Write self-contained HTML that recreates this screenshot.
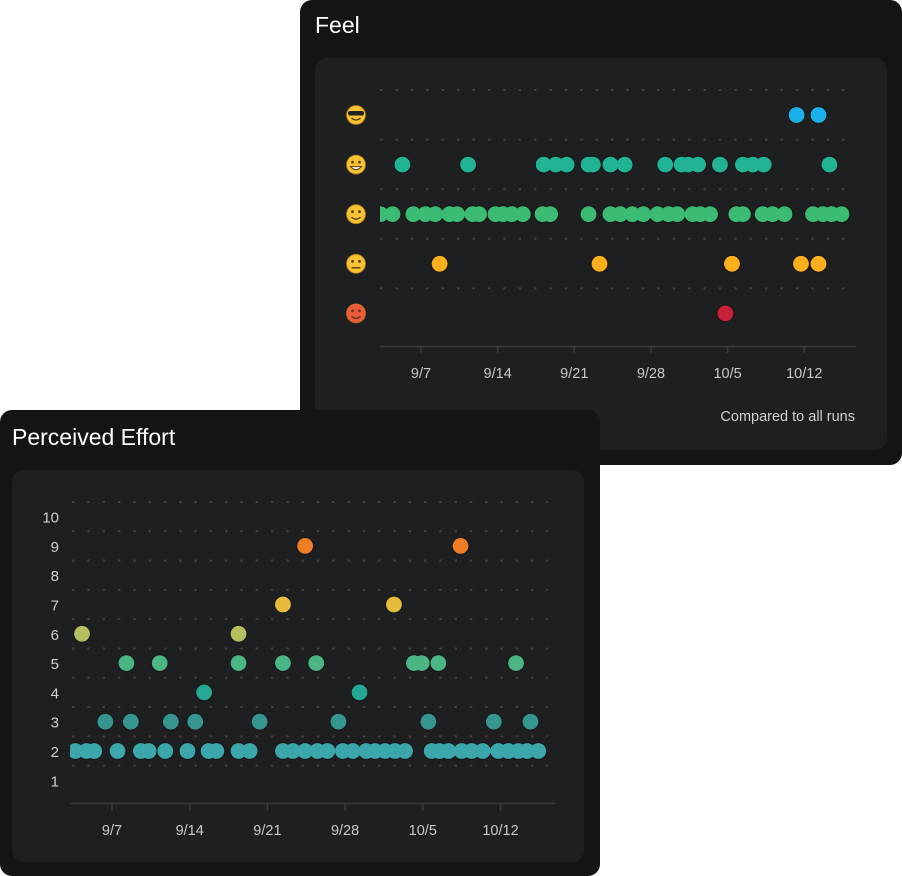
<!DOCTYPE html>
<html><head><meta charset="utf-8">
<style>
html,body{margin:0;padding:0;background:#fff;width:902px;height:876px;overflow:hidden}
svg text{font-family:"Liberation Sans",sans-serif}
</style></head>
<body>
<svg id="root" width="902" height="876" viewBox="0 0 902 876" xmlns="http://www.w3.org/2000/svg">
  <defs>
    <clipPath id="feelClip"><rect x="380" y="80" width="480" height="270"/></clipPath>
    <clipPath id="effClip"><rect x="70" y="490" width="490" height="315"/></clipPath>
  </defs>
  <g>
    <rect x="300" y="0" width="602" height="465" rx="12" fill="#131416"/>
    <text x="315" y="33" font-size="23" fill="#fff">Feel</text>
    <rect x="315" y="58" width="572" height="392" rx="12" fill="#1e1f21"/>
    <g id="feelGrid"></g>
    <g id="feelEmojis"></g>
    <g id="feelDots" clip-path="url(#feelClip)"><g id="feelStroke"></g><g id="feelFill"></g></g>
    <g id="feelAxis"></g>
    <text x="855" y="421" font-size="14.5" fill="#d0d0d0" text-anchor="end">Compared to all runs</text>
  </g>
  <g>
    <rect x="0" y="410" width="600" height="466" rx="12" fill="#131416"/>
    <text x="12" y="445" font-size="23" fill="#fff">Perceived Effort</text>
    <rect x="12" y="470" width="572" height="392" rx="12" fill="#1e1f21"/>
    <g id="effGrid"></g>
    <g id="effDots" clip-path="url(#effClip)"><g id="effStroke"></g><g id="effFill"></g></g>
    <g id="effAxis"></g>
  </g>
</svg>
<script>
// ---- data (days: 1 = 9/1) ----
const tickLabels = ["9/7","9/14","9/21","9/28","10/5","10/12"];
const tickDays = [7,14,21,28,35,42];
// Feel
const feelLevels = ["cool","grin","smile","neutral","hot"];
const feelCool = [41.3,43.3];
const feelGrin = [5.3,11.3,18.2,19.3,20.3,22.3,22.7,24.3,25.6,29.3,30.8,31.4,32.3,34.3,36.4,37.3,38.3,44.3];
const feelSmile = [3.3,4.4,6.3,7.4,8.3,9.6,10.3,11.7,12.3,13.8,14.5,15.3,16.3,18.1,18.8,22.3,24.3,25.2,26.3,27.3,28.6,29.6,30.4,31.8,32.5,33.4,35.8,36.4,38.2,39.1,40.2,42.8,43.7,44.5,45.4];
const feelNeutral = [8.7,23.3,35.4,41.7,43.3];
const feelHot = [34.8];
// Effort
const effortTicks = [1,2,3,4,5,6,7,8,9,10];
const effort2 = [3.7,4.7,5.4,7.5,9.6,10.3,11.8,13.8,15.7,16.4,18.4,19.4,22.4,23.3,24.4,25.5,26.4,27.8,28.7,29.9,30.7,31.6,32.5,33.4,35.8,36.5,37.3,38.5,39.4,40.4,41.8,42.7,43.6,44.4,45.4];
const effort3 = [6.4,8.7,12.3,14.5,20.3,27.4,35.5,41.4,44.7];
const effort4 = [15.3,29.3];
const effort5 = [8.3,11.3,18.4,22.4,25.4,34.2,34.9,36.4,43.4];
const effort6 = [4.3,18.4];
const effort7 = [22.4,32.4];
const effort9 = [24.4,38.4];

const NS="http://www.w3.org/2000/svg";
function mk(tag,attrs,parent){const e=document.createElementNS(NS,tag);for(const k in attrs)e.setAttribute(k,attrs[k]);parent.appendChild(e);return e;}

// ---- Feel chart ----
const fx = d => 421 + (d-7)*10.95;
const fy = i => 115 + i*49.6;
const fg=document.getElementById('feelGrid');
for(let i=0;i<5;i++){
  const l=mk('line',{x1:380,x2:856,y1:fy(i)-25,y2:fy(i)-25,stroke:'#414246','stroke-width':2,'stroke-dasharray':'2.5 12.9'},fg);
  
  
}
const emo=document.getElementById('feelEmojis');
const emoFill=['#f6c333','#f6c333','#f6c333','#f6c333','#ee5a3c'];
feelLevels.forEach((n,i)=>{
  const g=mk('g',{},emo);
  
  
  const cy=fy(i);
  mk('circle',{cx:356,cy:cy,r:9.5,fill:emoFill[i],stroke:'#b5761a','stroke-width':0.8},g);
  if(i===0){mk('rect',{x:348,y:cy-4,width:16,height:4.5,rx:2,fill:'#222'},g);}
  else{mk('circle',{cx:352.5,cy:cy-2.5,r:1.4,fill:'#5a3a12'},g);mk('circle',{cx:359.5,cy:cy-2.5,r:1.4,fill:'#5a3a12'},g);}
  if(i===3) mk('line',{x1:351.5,x2:360.5,y1:cy+4,y2:cy+4,stroke:'#5a3a12','stroke-width':1.4},g);
  else if(i===1) mk('path',{d:`M350.5 ${cy+2} Q356 ${cy+8} 361.5 ${cy+2} Z`,fill:'#fff',stroke:'#5a3a12','stroke-width':1},g);
  else mk('path',{d:`M351.5 ${cy+3} Q356 ${cy+7} 360.5 ${cy+3}`,fill:'none',stroke:'#5a3a12','stroke-width':1.3},g);
});
const fs=document.getElementById('feelStroke');
const ff=document.getElementById('feelFill');
const feelSeries=[[feelCool,'#1ab0ea'],[feelGrin,'#22b394'],[feelSmile,'#3bbb73'],[feelNeutral,'#fdb01c'],[feelHot,'#c8203a']];
feelSeries.forEach(([arr,col],i)=>{
  arr.forEach(d=>{
    mk('circle',{cx:fx(d),cy:fy(i),r:8.8,fill:'#141414'},fs);
    const c=mk('circle',{cx:fx(d),cy:fy(i),r:7.9,fill:col},ff);
    
    
  });
});
const fa=document.getElementById('feelAxis');
const fal=mk('line',{x1:380,x2:856,y1:346.5,y2:346.5,stroke:'#3a3b3f','stroke-width':1.5},fa);


tickDays.forEach((d,i)=>{
  mk('line',{x1:fx(d),x2:fx(d),y1:346,y2:353,stroke:'#3a3b3f','stroke-width':1.5},fa);
  const t=mk('text',{x:fx(d),y:378,'font-size':14.5,fill:'#c8c8c8','text-anchor':'middle'},fa);
  t.textContent=tickLabels[i];
  
  
});

// ---- Effort chart ----
const ex = d => 112 + (d-7)*11.1;
const ey = v => 751 - (v-2)*29.3;
const eg=document.getElementById('effGrid');
for(let v=1.5; v<=10.5; v++){
  const l=mk('line',{x1:72,x2:548,y1:ey(v),y2:ey(v),stroke:'#414246','stroke-width':2,'stroke-dasharray':'2.5 12.8'},eg);
  
  
}
const ea=document.getElementById('effAxis');
effortTicks.forEach(v=>{
  const t=mk('text',{x:59,y:ey(v)+6,'font-size':15,fill:'#d0d0d0','text-anchor':'end'},ea);
  t.textContent=v;
  
  
});
const eal=mk('line',{x1:70,x2:555,y1:803.5,y2:803.5,stroke:'#3a3b3f','stroke-width':1.5},ea);


tickDays.forEach((d,i)=>{
  mk('line',{x1:ex(d),x2:ex(d),y1:803,y2:811,stroke:'#3a3b3f','stroke-width':1.5},ea);
  const t=mk('text',{x:ex(d),y:835,'font-size':14.5,fill:'#c8c8c8','text-anchor':'middle'},ea);
  t.textContent=tickLabels[i];
  
  
});
const es=document.getElementById('effStroke');
const ef=document.getElementById('effFill');
const effSeries=[[effort2,2,'#3ba7ab'],[effort3,3,'#36968f'],[effort4,4,'#24a893'],[effort5,5,'#4cb586'],[effort6,6,'#b5bf5f'],[effort7,7,'#e6bc3c'],[effort9,9,'#ee7d24']];
effSeries.forEach(([arr,v,col])=>{
  arr.forEach(d=>{
    mk('circle',{cx:ex(d),cy:ey(v),r:8.8,fill:'#141414'},es);
    const c=mk('circle',{cx:ex(d),cy:ey(v),r:7.9,fill:col},ef);
    
    
  });
});
</script>
</body></html>
